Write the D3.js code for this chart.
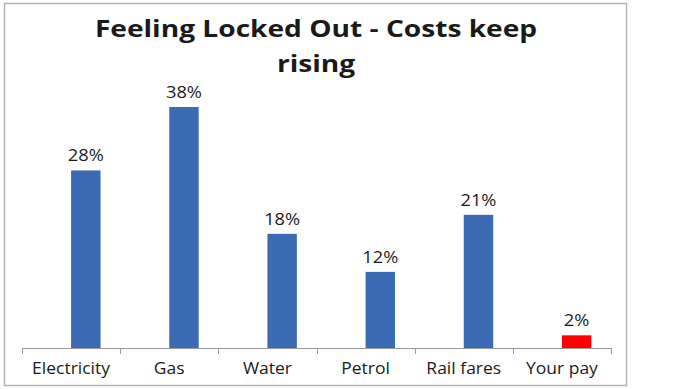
<!DOCTYPE html>
<html>
<head>
<meta charset="utf-8">
<script src="https://cdn.jsdelivr.net/npm/d3@7"></script>
<style>
  body { margin: 0; background: #fff; }
  text { font-family: "Open Sans", sans-serif; fill: #1a1a1a; }
</style>
</head>
<body>
<svg id="chart" width="692" height="389"></svg>
<script>
// data
var categories = ["Electricity", "Gas", "Water", "Petrol", "Rail fares", "Your pay"];
var values = [28, 38, 18, 12, 21, 2];
var barColors = ["#3b6cb3", "#3b6cb3", "#3b6cb3", "#3b6cb3", "#3b6cb3", "#ff0000"];
var titleLines = ["Feeling Locked Out - Costs keep", "rising"];

var svg = d3.select("#chart");

// outer chart frame
svg.append("rect")
    .attr("x", 4.5).attr("y", 3.5)
    .attr("width", 622).attr("height", 382)
    .attr("fill", "#fff")
    .attr("stroke", "#b4b4b4")
    .attr("stroke-width", 1.5);

// plot area
var margin = {top: 0, left: 22, right: 81, bottom: 41};
var width = 692 - margin.left - margin.right;
var baseY = 389 - margin.bottom;

var x = d3.scaleBand()
    .domain(categories)
    .range([margin.left, margin.left + width]);

var y = d3.scaleLinear()
    .domain([0, 38])
    .range([baseY, 107]);

var g = svg.append("g");

var bw = x.bandwidth() * 0.3;

g.selectAll(".bar")
    .data(categories)
    .enter().append("rect")
    .attr("class", "bar")
    .attr("x", function(d) { return x(d) + x.bandwidth() / 2; })
    .attr("width", bw)
    .attr("y", function(d, i) { return y(values[i]); })
    .attr("height", function(d, i) { return baseY - y(values[i]); })
    .attr("fill", function(d, i) { return barColors[i]; });

// value labels (text is stretched sideways like the source picture)
g.selectAll(".val")
    .data(categories)
    .enter().append("text")
    .attr("class", "val")
    .attr("transform", function(d, i) {
        return "translate(" + (x(d) + x.bandwidth() / 2 + bw / 2) + "," + (y(values[i]) - 9) + ") scale(1.18,1)";
    })
    .attr("text-anchor", "middle")
    .attr("font-size", 15.5)
    .text(function(d, i) { return values[i] + "%"; });

// x axis
var axis = g.append("g")
    .attr("transform", "translate(0," + baseY + ")");

axis.append("line")
    .attr("x1", margin.left).attr("x2", margin.left + width)
    .attr("y1", 0.5).attr("y2", 0.5)
    .attr("stroke", "#9a9a9a");

var tickPos = categories.map(function(d) { return x(d); }).concat([margin.left + width]);
axis.selectAll(".tick")
    .data(tickPos)
    .enter().append("line")
    .attr("x1", function(d) { return Math.round(d) + 0.5; })
    .attr("x2", function(d) { return Math.round(d) + 0.5; })
    .attr("y1", 0).attr("y2", 6)
    .attr("stroke", "#9a9a9a");

axis.selectAll(".cat")
    .data(categories)
    .enter().append("text")
    .attr("class", "cat")
    .attr("transform", function(d) {
        return "translate(" + (x(d) + x.bandwidth() / 2) + ",26) scale(1.13,1)";
    })
    .attr("text-anchor", "middle")
    .attr("font-size", 15.5)
    .text(function(d) { return d; });

// title
svg.selectAll(".title")
    .data(titleLines)
    .enter().append("text")
    .attr("class", "title")
    .attr("transform", function(d, i) {
        return "translate(316," + (37 + i * 35) + ") scale(1.25,1)";
    })
    .attr("text-anchor", "middle")
    .attr("font-size", 22.5)
    .attr("font-weight", "bold")
    .text(function(d) { return d; });
</script>
</body>
</html>
